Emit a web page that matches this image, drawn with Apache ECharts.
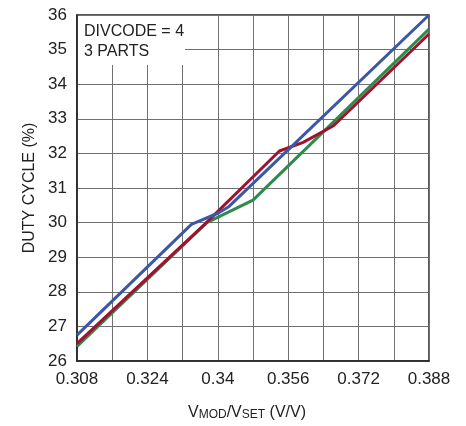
<!DOCTYPE html>
<html><head><meta charset="utf-8">
<script src="https://cdn.jsdelivr.net/npm/echarts@6/dist/echarts.min.js"></script>
<style>html,body{margin:0;padding:0;background:#fff}#c{width:466px;height:426px}</style>
</head><body><div id="c"></div>
<script>
// Data
const blueX = [0.308, 0.334, 0.340, 0.3425, 0.388];
const blueY = [26.75, 29.95, 30.27, 30.46, 36.0];
const redX = [0.308, 0.337, 0.354, 0.3594, 0.3663, 0.388];
const redY = [26.5, 29.95, 32.07, 32.32, 32.8, 35.45];
const greenX = [0.308, 0.3375, 0.348, 0.388];
const greenY = [26.42, 30.0, 30.65, 35.59];
const xTickLabels = ['0.308', '0.324', '0.34', '0.356', '0.372', '0.388'];
const yTickLabels = ['26','27','28','29','30','31','32','33','34','35','36'];

const pair = (xs, ys) => xs.map((x, i) => [x, ys[i]]);
const FONT = '"Liberation Sans", Arial, sans-serif';
const chart = echarts.init(document.getElementById('c'), null, {renderer: 'canvas'});
chart.setOption({
  animation: false,
  backgroundColor: '#fff',
  grid: {left: 77, right: 37, top: 15, bottom: 59, show: true, borderColor: '#222', borderWidth: 1.5, containLabel: false},
  xAxis: {
    type: 'value', min: 0.308, max: 0.388, interval: 0.008,
    axisLine: {show: true, lineStyle: {color: '#222', width: 1.5}},
    axisTick: {show: false},
    splitLine: {show: true, lineStyle: {color: '#707070', width: 1}},
    axisLabel: {
      margin: 10, color: '#222', fontFamily: FONT, fontSize: 17,
      formatter: v => { const s = String(parseFloat(v.toFixed(3))); return xTickLabels.includes(s) ? s : ''; }
    },
    name: '{n|V}{s|MOD}{n|/V}{s|SET}{n| (V/V)}', nameLocation: 'middle', nameGap: 43,
    nameTextStyle: {
      color: '#222', fontFamily: FONT, fontSize: 16, padding: [0, 12, 0, 0],
      rich: {n: {fontFamily: FONT, fontSize: 16, color: '#222'},
             s: {fontFamily: FONT, fontSize: 12, color: '#222', verticalAlign: 'bottom', padding: [5, 0, 0, 0]}}
    }
  },
  yAxis: {
    type: 'value', min: 26, max: 36, interval: 1,
    axisLine: {show: true, lineStyle: {color: '#222', width: 1.5}},
    axisTick: {show: false},
    splitLine: {show: true, lineStyle: {color: '#707070', width: 1}},
    axisLabel: {margin: 10, color: '#222', fontFamily: FONT, fontSize: 17,
      formatter: v => { const s = String(Math.round(v)); return yTickLabels.includes(s) ? s : ''; }},
    name: 'DUTY CYCLE (%)', nameLocation: 'middle', nameGap: 36,
    nameTextStyle: {color: '#222', fontFamily: FONT, fontSize: 16}
  },
  graphic: [
    {type: 'rect', shape: {x: 78, y: 16, width: 107, height: 49}, style: {fill: '#fff'}, z: 5},
    {type: 'text', left: 84, top: 22, z: 6, style: {text: 'DIVCODE = 4\n3 PARTS', font: '16px "Liberation Sans", Arial, sans-serif', fill: '#222', lineHeight: 20}}
  ],
  series: [
    {type: 'line', data: pair(greenX, greenY), showSymbol: false, lineStyle: {color: '#2f8a4b', width: 3}, z: 3},
    {type: 'line', data: pair(redX, redY), showSymbol: false, lineStyle: {color: '#a0122f', width: 3}, z: 4},
    {type: 'line', data: pair(blueX, blueY), showSymbol: false, lineStyle: {color: '#3b57a6', width: 3}, z: 5}
  ]
});
</script></body></html>
